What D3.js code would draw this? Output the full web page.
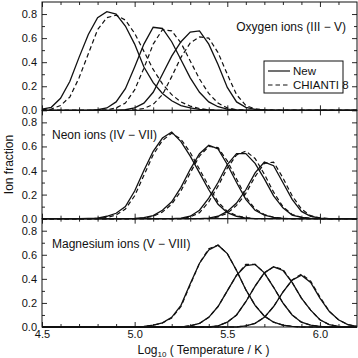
<!DOCTYPE html>
<html>
<head>
<meta charset="utf-8">
<script src="https://cdn.jsdelivr.net/npm/d3@7"></script>
<style>
  body { margin: 0; background: #fff; }
  svg { display: block; }
  text { font-family: 'Liberation Sans', Arial, sans-serif; fill: #111; }
</style>
</head>
<body>
<script>
// temperature grid, log10 T
const logT = [4.50, 4.55, 4.60, 4.65, 4.70, 4.75, 4.80, 4.85, 4.90, 4.95,
              5.00, 5.05, 5.10, 5.15, 5.20, 5.25, 5.30, 5.35, 5.40, 5.45,
              5.50, 5.55, 5.60, 5.65, 5.70, 5.75, 5.80, 5.85, 5.90, 5.95,
              6.00, 6.05, 6.10, 6.15, 6.20];

// Oxygen (new / CHIANTI 8)
const oIIInew  = [0.01,0.025,0.10,0.24,0.44,0.63,0.77,0.82,0.80,0.70,0.55,0.36,0.23,0.14,0.08,0.04,0.02,0.008,0.003,0,0,0,0,0,0,0,0,0,0,0,0,0,0,0,0];
const oIIIold  = [0.003,0.01,0.04,0.11,0.27,0.47,0.67,0.77,0.79,0.75,0.64,0.49,0.34,0.22,0.13,0.07,0.035,0.015,0.005,0,0,0,0,0,0,0,0,0,0,0,0,0,0,0,0];
const oIVnew   = [0,0,0,0,0,0,0.005,0.02,0.07,0.18,0.36,0.55,0.69,0.68,0.57,0.42,0.27,0.15,0.07,0.03,0.01,0.003,0,0,0,0,0,0,0,0,0,0,0,0,0];
const oIVold   = [0,0,0,0,0,0,0,0.005,0.02,0.06,0.17,0.35,0.55,0.67,0.66,0.56,0.41,0.26,0.14,0.06,0.02,0.005,0,0,0,0,0,0,0,0,0,0,0,0,0];
const oVnew    = [0,0,0,0,0,0,0,0,0,0.005,0.02,0.06,0.15,0.30,0.45,0.57,0.65,0.66,0.55,0.38,0.19,0.07,0.025,0.008,0.003,0,0,0,0,0,0,0,0,0,0];
const oVold    = [0,0,0,0,0,0,0,0,0,0,0.005,0.015,0.05,0.13,0.28,0.44,0.56,0.61,0.60,0.48,0.30,0.13,0.04,0.012,0.004,0,0,0,0,0,0,0,0,0,0];

// Neon
const neIVnew  = [0,0,0,0,0,0.002,0.005,0.02,0.045,0.10,0.23,0.40,0.56,0.67,0.72,0.64,0.52,0.38,0.24,0.12,0.05,0.02,0.005,0,0,0,0,0,0,0,0,0,0,0,0];
const neIVold  = [0,0,0,0,0,0,0.003,0.01,0.03,0.08,0.19,0.36,0.53,0.65,0.71,0.66,0.55,0.41,0.27,0.14,0.06,0.025,0.008,0,0,0,0,0,0,0,0,0,0,0,0];
const neVnew   = [0,0,0,0,0,0,0,0,0,0,0.003,0.008,0.025,0.07,0.14,0.26,0.41,0.54,0.61,0.58,0.45,0.30,0.16,0.07,0.03,0.01,0.003,0,0,0,0,0,0,0,0];
const neVold   = [0,0,0,0,0,0,0,0,0,0,0,0.005,0.02,0.055,0.12,0.23,0.38,0.52,0.60,0.59,0.48,0.33,0.18,0.08,0.035,0.012,0.004,0,0,0,0,0,0,0,0];
const neVInew  = [0,0,0,0,0,0,0,0,0,0,0,0,0,0,0,0.005,0.02,0.07,0.17,0.30,0.45,0.54,0.54,0.46,0.33,0.19,0.09,0.03,0.01,0.003,0,0,0,0,0];
const neVIold  = [0,0,0,0,0,0,0,0,0,0,0,0,0,0,0,0,0.015,0.05,0.14,0.27,0.42,0.53,0.56,0.50,0.37,0.22,0.10,0.035,0.012,0.004,0,0,0,0,0];
const neVIInew = [0,0,0,0,0,0,0,0,0,0,0,0,0,0,0,0,0,0,0.005,0.02,0.06,0.13,0.24,0.38,0.47,0.44,0.30,0.16,0.06,0.02,0.005,0,0,0,0];
const neVIIold = [0,0,0,0,0,0,0,0,0,0,0,0,0,0,0,0,0,0,0,0.015,0.045,0.11,0.21,0.35,0.46,0.47,0.34,0.19,0.08,0.025,0.007,0,0,0,0];

// Magnesium
const mgVnew    = [0,0,0,0,0,0,0,0,0,0,0.002,0.005,0.015,0.035,0.08,0.18,0.36,0.53,0.64,0.68,0.61,0.47,0.31,0.18,0.09,0.04,0.015,0.005,0,0,0,0,0,0,0];
const mgVold    = [0,0,0,0,0,0,0,0,0,0,0.002,0.005,0.014,0.033,0.075,0.17,0.35,0.53,0.65,0.68,0.61,0.47,0.31,0.18,0.09,0.04,0.015,0.005,0,0,0,0,0,0,0];
const mgVInew   = [0,0,0,0,0,0,0,0,0,0,0,0,0,0,0,0,0.01,0.03,0.08,0.17,0.30,0.43,0.51,0.52,0.45,0.33,0.20,0.10,0.04,0.015,0.005,0,0,0,0];
const mgVIold   = [0,0,0,0,0,0,0,0,0,0,0,0,0,0,0,0,0.01,0.03,0.08,0.17,0.30,0.43,0.52,0.52,0.45,0.33,0.20,0.10,0.04,0.015,0.005,0,0,0,0];
const mgVIInew  = [0,0,0,0,0,0,0,0,0,0,0,0,0,0,0,0,0,0,0,0.01,0.04,0.10,0.21,0.34,0.45,0.50,0.47,0.37,0.24,0.14,0.06,0.02,0.005,0,0];
const mgVIIold  = [0,0,0,0,0,0,0,0,0,0,0,0,0,0,0,0,0,0,0,0.01,0.04,0.10,0.21,0.34,0.45,0.50,0.48,0.37,0.24,0.14,0.06,0.02,0.005,0,0];
const mgVIIInew = [0,0,0,0,0,0,0,0,0,0,0,0,0,0,0,0,0,0,0,0,0,0,0.01,0.03,0.08,0.17,0.29,0.39,0.43,0.37,0.24,0.13,0.06,0.02,0.005];
const mgVIIIold = [0,0,0,0,0,0,0,0,0,0,0,0,0,0,0,0,0,0,0,0,0,0,0.01,0.03,0.08,0.17,0.29,0.39,0.44,0.38,0.25,0.13,0.06,0.02,0.005];

const panelLabels = ["Oxygen ions (III \u2212 V)", "Neon ions (IV \u2212 VII)", "Magnesium ions (V \u2212 VIII)"];
const xTicks = [4.5, 5.0, 5.5, 6.0];
const yTicks = [0, 0.2, 0.4, 0.6, 0.8];
const legendLabels = ["New", "CHIANTI 8"];

const panels = [
  { label: panelLabels[0], newer: [oIIInew, oIVnew, oVnew], older: [oIIIold, oIVold, oVold] },
  { label: panelLabels[1], newer: [neIVnew, neVnew, neVInew, neVIInew], older: [neIVold, neVold, neVIold, neVIIold] },
  { label: panelLabels[2], newer: [mgVnew, mgVInew, mgVIInew, mgVIIInew], older: [mgVold, mgVIold, mgVIIold, mgVIIIold] }
];

const width = 358, height = 358;
const margin = { top: 2, right: 1, bottom: 31, left: 42 };
const innerW = width - margin.left - margin.right;
const panelH = (height - margin.top - margin.bottom) / 3;

const svg = d3.select('body').append('svg')
  .attr('width', width)
  .attr('height', height);

const x = d3.scaleLinear().domain([4.5, 6.2]).range([margin.left, margin.left + innerW]);
const xMinor = d3.range(46, 62).map(d => d / 10);
const yMinor = [0.1, 0.3, 0.5, 0.7];

function tickAxis(g, axis) {
  g.call(axis);
  g.select('.domain').remove();
  g.selectAll('line').attr('stroke', '#111').attr('stroke-width', 0.9);
  g.selectAll('text').attr('font-size', 11).attr('fill', '#111')
    .attr('font-family', "'Liberation Sans', Arial, sans-serif");
}

panels.forEach((p, k) => {
  const top = margin.top + k * panelH;
  const bottom = top + panelH;
  const y = d3.scaleLinear().domain([0, 0.9]).range([bottom, top]);
  const g = svg.append('g');

  const line = d3.line()
    .x((d, i) => x(logT[i]))
    .y(d => y(d));

  g.selectAll('path.old').data(p.older).join('path')
    .attr('class', 'old')
    .attr('d', line)
    .attr('fill', 'none')
    .attr('stroke', '#111')
    .attr('stroke-width', 1.2)
    .attr('stroke-dasharray', '4.5,3');

  g.selectAll('path.new').data(p.newer).join('path')
    .attr('class', 'new')
    .attr('d', line)
    .attr('fill', 'none')
    .attr('stroke', '#111')
    .attr('stroke-width', 1.3);

  // frame
  g.append('rect')
    .attr('x', margin.left).attr('y', top)
    .attr('width', innerW).attr('height', panelH)
    .attr('fill', 'none').attr('stroke', '#111').attr('stroke-width', 1);

  // ticks on all four sides, pointing in
  tickAxis(g.append('g').attr('transform', `translate(${margin.left},0)`),
    d3.axisLeft(y).tickValues(yTicks).tickSize(-5).tickPadding(5).tickFormat(d3.format('.1f')));
  tickAxis(g.append('g').attr('transform', `translate(${margin.left},0)`),
    d3.axisLeft(y).tickValues(yMinor).tickSize(-3).tickFormat(''));
  tickAxis(g.append('g').attr('transform', `translate(${margin.left + innerW},0)`),
    d3.axisRight(y).tickValues(yTicks).tickSize(-5).tickFormat(''));
  tickAxis(g.append('g').attr('transform', `translate(${margin.left + innerW},0)`),
    d3.axisRight(y).tickValues(yMinor).tickSize(-3).tickFormat(''));
  tickAxis(g.append('g').attr('transform', `translate(0,${top})`),
    d3.axisTop(x).tickValues(xTicks).tickSize(-5).tickFormat(''));
  tickAxis(g.append('g').attr('transform', `translate(0,${top})`),
    d3.axisTop(x).tickValues(xMinor.filter(v => !xTicks.includes(v))).tickSize(-3).tickFormat(''));
  tickAxis(g.append('g').attr('transform', `translate(0,${bottom})`),
    d3.axisBottom(x).tickValues(xTicks).tickSize(-5).tickPadding(3)
      .tickFormat(k === 2 ? d3.format('.1f') : ''));
  tickAxis(g.append('g').attr('transform', `translate(0,${bottom})`),
    d3.axisBottom(x).tickValues(xMinor.filter(v => !xTicks.includes(v))).tickSize(-3).tickFormat(''));

  // panel label
  const right = k === 0;
  g.append('text')
    .attr('x', right ? margin.left + innerW - 11 : margin.left + 10)
    .attr('y', top + 29)
    .attr('text-anchor', right ? 'end' : 'start')
    .attr('font-size', 12)
    .text(p.label);

  if (k === 0) {
    const lg = g.append('g').attr('transform', `translate(264,${top + 59})`);
    lg.append('rect').attr('width', 79).attr('height', 32)
      .attr('fill', 'none').attr('stroke', '#111').attr('stroke-width', 1);
    legendLabels.forEach((lab, i) => {
      lg.append('line')
        .attr('x1', 4).attr('x2', 26)
        .attr('y1', 10 + i * 14).attr('y2', 10 + i * 14)
        .attr('stroke', '#111').attr('stroke-width', 1.2)
        .attr('stroke-dasharray', i === 1 ? '4.5,3' : null);
      lg.append('text')
        .attr('x', 29).attr('y', 14 + i * 14)
        .attr('font-size', 11.5)
        .text(lab);
    });
  }
});

// axis titles
svg.append('text')
  .attr('transform', `translate(13,${margin.top + panelH * 1.5}) rotate(-90)`)
  .attr('text-anchor', 'middle')
  .attr('font-size', 12)
  .text('Ion fraction');

const xt = svg.append('text')
  .attr('x', margin.left + innerW / 2 + 4)
  .attr('y', height - 4)
  .attr('text-anchor', 'middle')
  .attr('font-size', 12);
xt.append('tspan').text('Log');
xt.append('tspan').attr('font-size', 8).attr('dy', 3).text('10');
xt.append('tspan').attr('dy', -3).text(' ( Temperature / K )');
</script>
</body>
</html>
